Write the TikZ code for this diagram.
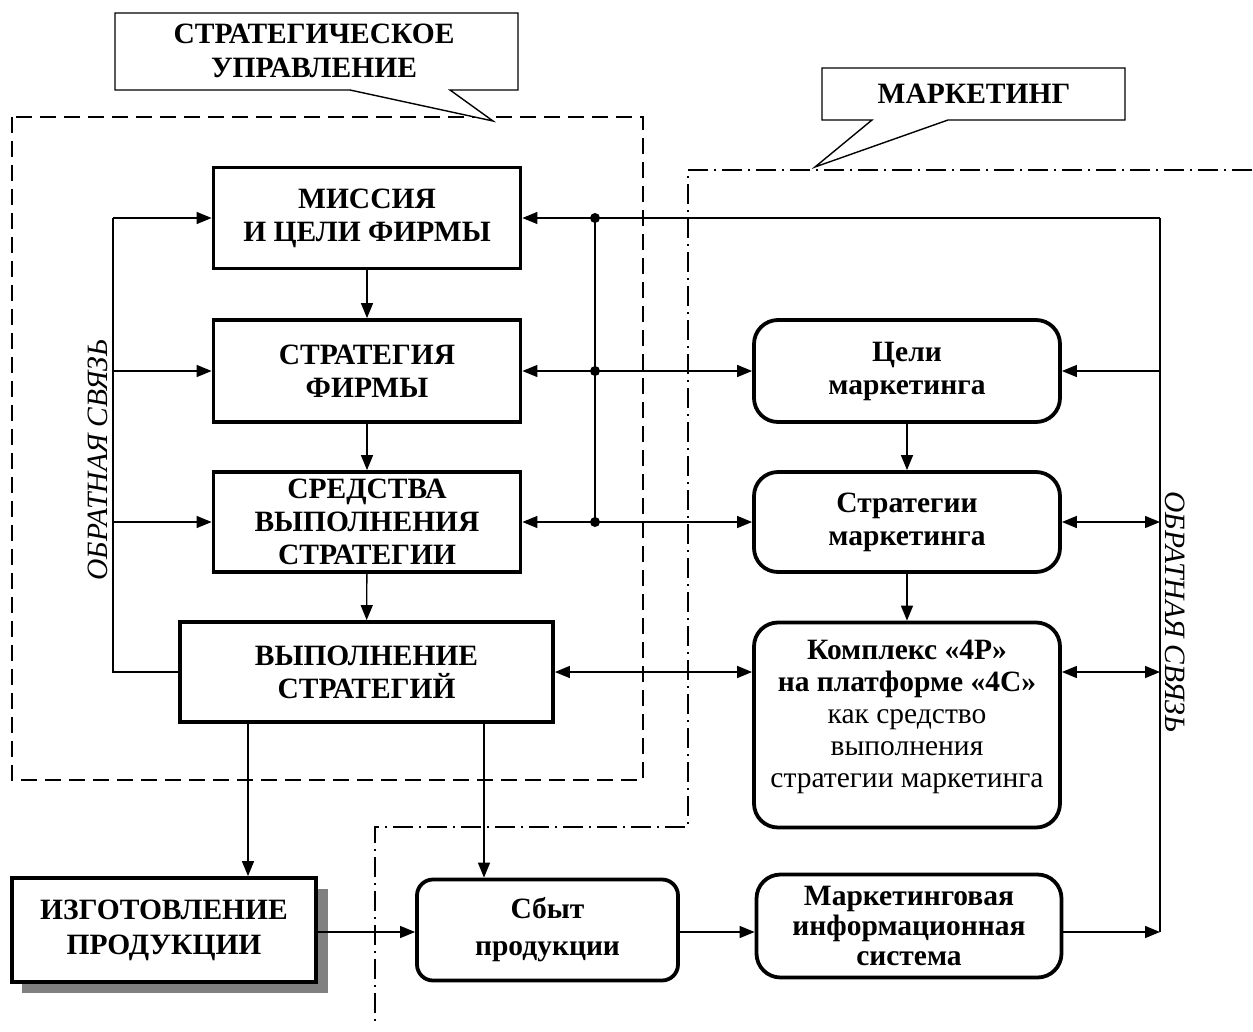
\documentclass[tikz,border=0pt]{standalone}
\usepackage{fontspec}
\setmainfont{Liberation Serif}
\usetikzlibrary{arrows.meta,calc}
\tikzset{
  sbox/.style={draw, line width=3.8pt, fill=white, align=center, inner sep=0pt,
    font=\bfseries\fontsize{29.5}{33}\selectfont},
  rbox/.style={sbox, rounded corners=24pt},
  con/.style={line width=1.4pt},
  arr/.style={con, -{Triangle[length=15pt,width=12pt]}},
  darr/.style={con, {Triangle[length=15pt,width=12pt]}-{Triangle[length=15pt,width=12pt]}},
  dashbox/.style={line width=1.3pt, dash pattern=on 16pt off 8pt},
  dotdash/.style={line width=1.3pt, dash pattern=on 20pt off 6pt on 2pt off 6pt},
  callout/.style={line width=1.4pt, fill=white, line join=miter},
  ctext/.style={align=center, inner sep=0pt, font=\bfseries\fontsize{29.5}{34}\selectfont},
  fbl/.style={inner sep=0pt, font=\itshape\fontsize{29.5}{32}\selectfont},
  btext/.style={align=center, inner sep=0pt, font=\bfseries\fontsize{29.5}{32}\selectfont},
}
\begin{document}
\begin{tikzpicture}[x=1pt,y=-1pt]
\useasboundingbox (0,0) rectangle (1253,1031);

% regions
\draw[dashbox] (12,117) rectangle (643,780);
\draw[dotdash] (1252,170) -- (688,170) -- (688,827) -- (375,827) -- (375,1025);

% callouts
\draw[callout] (115,13) -- (518,13) -- (518,90) -- (450,90) -- (493,121) -- (350,90) -- (115,90) -- cycle;
\node[ctext] (c1) at (314,51) {СТРАТЕГИЧЕСКОЕ\\УПРАВЛЕНИЕ};
\draw[callout] (822,68) -- (1125,68) -- (1125,120) -- (948,120) -- (815,167) -- (872,120) -- (822,120) -- cycle;
\node[ctext] (c2) at (974,94) {МАРКЕТИНГ};

% left column
\node[sbox, minimum width=307pt, minimum height=101pt] (b1) at (367,218) {МИССИЯ\\И ЦЕЛИ ФИРМЫ};
\node[sbox, minimum width=307pt, minimum height=102pt] (b2) at (367,371) {СТРАТЕГИЯ\\ФИРМЫ};
\node[sbox, minimum width=307pt, minimum height=100pt] (b3) at (367,522) {СРЕДСТВА\\ВЫПОЛНЕНИЯ\\СТРАТЕГИИ};
\node[sbox, minimum width=373pt, minimum height=100pt] (b4) at (366.5,672) {ВЫПОЛНЕНИЕ\\СТРАТЕГИЙ};

% right column
\node[rbox, minimum width=306pt, minimum height=102pt] (r1) at (907,371) {Цели\\маркетинга};
\node[rbox, minimum width=306pt, minimum height=100pt] (r2) at (907,522) {Стратегии\\маркетинга};
\node[rbox, minimum width=306pt, minimum height=205pt] (r3) at (907,725) {};
\node[btext] (r3t) at (907,717)
  {Комплекс «4P»\\на платформе «4C»\\\mdseries как средство\\\mdseries выполнения\\\mdseries стратегии маркетинга};
\node[rbox, minimum width=305pt, minimum height=103pt, font=\bfseries\fontsize{29.5}{30}\selectfont] (r4) at (909,926) {Маркетинговая\\информационная\\система};

% bottom row
\fill[gray] (22,889) rectangle (328,993);
\node[sbox, minimum width=304pt, minimum height=104pt, font=\bfseries\fontsize{29.5}{35}\selectfont] (iz) at (164,930) {ИЗГОТОВЛЕНИЕ\\ПРОДУКЦИИ};
\node[rbox, minimum width=261pt, minimum height=101pt, rounded corners=16pt, font=\bfseries\fontsize{29.5}{37}\selectfont] (sb) at (547.5,930) {Сбыт\\продукции};

% vertical flow
\draw[arr] (b1) -- (b2);
\draw[arr] (b2) -- (b3);
\draw[arr] (b3) -- (b4);
\draw[arr] (r1) -- (r2);
\draw[arr] (r2) -- (r3);

% left feedback
\coordinate (lb) at (113,672);
\coordinate (l1) at (113,218);
\coordinate (l2) at (113,371);
\coordinate (l3) at (113,522);
\draw[con] (b4.west) -- (lb) -- (l1);
\draw[arr] (l1) -- (b1.west);
\draw[arr] (l2) -- (b2.west);
\draw[arr] (l3) -- (b3.west);
\node[fbl, rotate=90] (fl) at (98,460) {ОБРАТНАЯ СВЯЗЬ};

% junction links
\coordinate (rt) at (1160,218);
\coordinate (j1) at (595,218);
\coordinate (j2) at (595,371);
\coordinate (j3) at (595,522);
\coordinate (ry) at (0,932);
\draw[arr] (rt) -- (b1.east);
\draw[con] (j1) -- (j3);
\draw[darr] (b2.east) -- (r1.west);
\draw[darr] (b3.east) -- (r2.west);
\fill (j1) circle (5pt);
\fill (j2) circle (5pt);
\fill (j3) circle (5pt);
\draw[darr] (b4.east) -- (b4.east -| r3.west);

% right feedback
\draw[con] (rt) -- (rt |- ry);
\draw[arr] (rt |- r1.east) -- (r1.east);
\draw[darr] (r2.east) -- (r2.east -| rt);
\draw[darr] (b4.east -| r3.east) -- (b4.east -| rt);
\draw[arr] (r4.east |- ry) -- (rt |- ry);
\node[fbl, rotate=-90] (fr) at (1175,612) {ОБРАТНАЯ СВЯЗЬ};

% bottom flows
\coordinate (a1) at (248,722);
\coordinate (a2) at (484,722);
\draw[arr] (a1) -- (a1 |- iz.north);
\draw[arr] (a2) -- (a2 |- sb.north);
\draw[arr] (iz.east |- ry) -- (sb.west |- ry);
\draw[arr] (sb.east |- ry) -- (r4.west |- ry);
\end{tikzpicture}
\end{document}
